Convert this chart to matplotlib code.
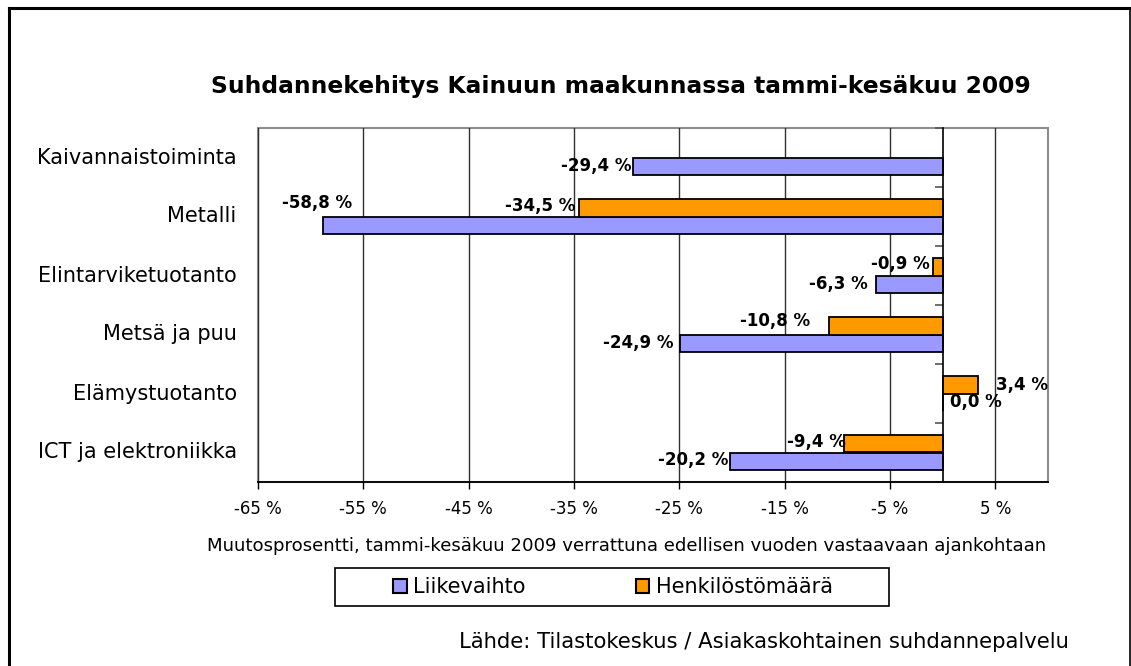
import matplotlib
matplotlib.use("Agg")
import matplotlib.pyplot as plt
import matplotlib.transforms as mtransforms
from matplotlib.lines import Line2D
from matplotlib.patches import Patch, Rectangle
import numpy as np

plt.rcParams["font.family"] = ["DejaVu Sans"]

# data (top to bottom)
categories = ["Kaivannaistoiminta", "Metalli", "Elintarviketuotanto",
              "Metsä ja puu", "Elämystuotanto", "ICT ja elektroniikka"]
liikevaihto = [-29.4, -58.8, -6.3, -24.9, 0.0, -20.2]
henkilosto = [np.nan, -34.5, -0.9, -10.8, 3.4, -9.4]
series_names = ["Liikevaihto", "Henkilöstömäärä"]
x_ticks = [-65, -55, -45, -35, -25, -15, -5, 5]

title = "Suhdannekehitys Kainuun maakunnassa tammi-kesäkuu 2009"
x_label = "Muutosprosentti, tammi-kesäkuu 2009 verrattuna edellisen vuoden vastaavaan ajankohtaan"
source = "Lähde: Tilastokeskus / Asiakaskohtainen suhdannepalvelu"

BLUE = "#9999FF"
ORANGE = "#FF9900"

W, H = 1131, 666
fig = plt.figure(figsize=(W / 100, H / 100), dpi=100)


def fx(px):
    return px / W


def fy(py):
    return 1 - py / H


# plot area in pixels: x 258..1048, y 128..482
ax = fig.add_axes([fx(258), fy(482), fx(1048) - fx(258), fy(128) - fy(482)])

y = np.arange(len(categories))
bar_h = 0.3
lv = np.asarray(liikevaihto, dtype=float)
hm = np.asarray(henkilosto, dtype=float)
ok = np.isfinite(hm)

ax.barh(y + bar_h / 2, lv, height=bar_h, color=BLUE,
        edgecolor="black", linewidth=1.3, zorder=3)
ax.barh(y[ok] - bar_h / 2, hm[ok], height=bar_h, color=ORANGE,
        edgecolor="black", linewidth=1.3, zorder=3)

ax.set_xlim(-65, 10)
ax.set_ylim(len(categories) - 0.5, -0.5)

ax.set_xticks(x_ticks)
ax.set_xticklabels([f"{t} %" for t in x_ticks], fontsize=12)
ax.tick_params(axis="x", direction="out", length=5, width=1, color="black", pad=8)
ax.grid(axis="x", color="#303030", linewidth=1, zorder=1)

# value axis crossing at zero, with category separator ticks
for s in ("top", "right"):
    ax.spines[s].set_visible(False)
ax.spines["left"].set_position(("data", 0))
ax.spines["left"].set_color("black")
ax.spines["left"].set_linewidth(1.2)
ax.spines["left"].set_zorder(4)
ax.spines["bottom"].set_color("black")
ax.spines["bottom"].set_linewidth(1.3)
ax.set_yticks(np.arange(len(categories) + 1) - 0.5)
ax.set_yticklabels([])
ax.tick_params(axis="y", direction="out", length=6, width=1.2, color="#555555")

ax.add_patch(Rectangle((0, 0), 1, 1, transform=ax.transAxes, fill=False,
                       edgecolor="#8c8c8c", linewidth=1.5, zorder=0, clip_on=False))

trans = mtransforms.blended_transform_factory(ax.transAxes, ax.transData)
for i, name in enumerate(categories):
    ax.text(-0.027, i, name, transform=trans, ha="right", va="center", fontsize=15)

# data labels: (ha, dx px, dy px) relative to the bar end
lv_pos = [("right", -1, 0), ("center", -6, -22), ("right", -9, 0),
          ("right", -7, 0), ("left", 7, 0), ("right", -2, -1)]
hm_pos = [None, ("right", -4, -2), ("right", -3, -3),
          ("right", -19, -5), ("left", 18, 0), ("right", 2, -2)]


def fmt(v):
    return f"{v:.1f} %".replace(".", ",")


for i in range(len(categories)):
    ha, dx, dy = lv_pos[i]
    ax.annotate(fmt(lv[i]), xy=(lv[i], y[i] + bar_h / 2), xytext=(dx, -dy),
                textcoords="offset pixels", ha=ha, va="center",
                fontsize=12, fontweight="bold", zorder=6)
    if ok[i]:
        ha, dx, dy = hm_pos[i]
        ax.annotate(fmt(hm[i]), xy=(hm[i], y[i] - bar_h / 2), xytext=(dx, -dy),
                    textcoords="offset pixels", ha=ha, va="center",
                    fontsize=12, fontweight="bold", zorder=6)

fig.text(fx(621), fy(87), title, ha="center", va="center",
         fontsize=16.8, fontweight="bold")
fig.text(fx(627), fy(546), x_label, ha="center", va="center", fontsize=13.1)
fig.text(fx(1069), fy(642), source, ha="right", va="center", fontsize=15.2)

# legend
fig.add_artist(Rectangle((fx(335), fy(606)), fx(889) - fx(335), fy(568) - fy(606),
                         transform=fig.transFigure, fill=False,
                         edgecolor="black", linewidth=1.2))
handles = [Patch(facecolor=BLUE, edgecolor="black", linewidth=1.5),
           Patch(facecolor=ORANGE, edgecolor="black", linewidth=1.5)]
fig.legend(handles, series_names, loc="center", bbox_to_anchor=(fx(613), fy(587)),
           ncol=2, frameon=False, fontsize=15, handlelength=0.65, handleheight=0.65,
           handletextpad=0.3, columnspacing=5.3, borderpad=0.2)

# chart area border
fig.add_artist(Line2D([fx(9), fx(9)], [fy(8), 0], transform=fig.transFigure,
                      color="black", linewidth=2.2))
fig.add_artist(Line2D([fx(9), fx(1130)], [fy(8), fy(8)], transform=fig.transFigure,
                      color="black", linewidth=2.2))
fig.add_artist(Line2D([fx(1130), fx(1130)], [fy(8), 0], transform=fig.transFigure,
                      color="black", linewidth=1.2))

fig.savefig("out.png", dpi=100)
